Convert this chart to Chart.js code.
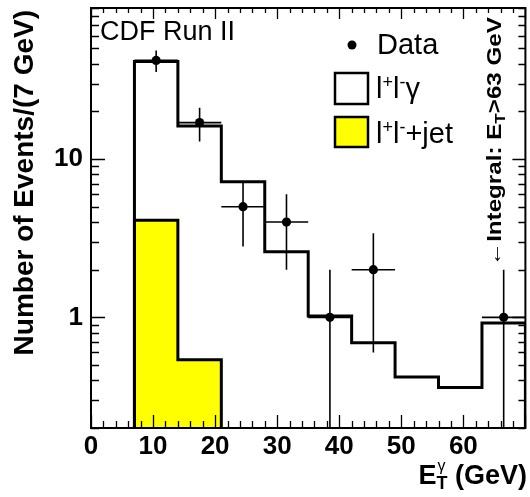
<!DOCTYPE html>
<html><head><meta charset="utf-8">
<script src="https://cdn.jsdelivr.net/npm/chart.js@4/dist/chart.umd.min.js"></script>
<style>html,body{margin:0;padding:0;background:#fff;overflow:hidden;}</style>
</head><body>
<canvas id="c" width="530" height="497" style="display:block;width:530px;height:497px"></canvas>
<script>
// ---- data ----
const binEdges = [7, 14, 21, 28, 35, 42, 49, 56, 63, 70];
const llGamma  = [41.3, 16.2, 7.2, 2.6, 1.02, 0.69, 0.42, 0.36, 0.92];
const llJet    = [4.1, 0.54, 0, 0, 0, 0, 0, 0, 0];
const dataX    = [10.5, 17.5, 24.5, 31.5, 38.5, 45.5, 66.5];
const dataY    = [42, 17, 5, 4, 1, 2, 1];
const dataErrY = [6.5, 4.1, 2.2, 2.0, 1.0, 1.4, 1.0];
const dataErrX = [3.5, 3.5, 3.5, 3.5, 3.5, 3.5, 3.5];
const xTickLabels = [0, 10, 20, 30, 40, 50, 60];
const yTickLabels = [1, 10];
const FONT = "'Liberation Sans', Arial, Helvetica, sans-serif";

const BASE = 0.05;
function histSteps(edges, vals) {
  const pts = [{x: edges[0], y: BASE}];
  for (let i = 0; i < vals.length; i++) pts.push({x: edges[i], y: vals[i] > 0 ? vals[i] : BASE});
  const last = vals[vals.length - 1];
  pts.push({x: edges[edges.length - 1], y: last > 0 ? last : BASE});
  pts.push({x: edges[edges.length - 1], y: BASE});
  return pts;
}

const decor = {
  id: 'decor',
  beforeDatasetDraw(chart, args) {
    if (args.index !== 0) return;
    const {ctx, chartArea: a} = chart;
    const xs = chart.scales.x, ys = chart.scales.y;
    ctx.save();
    ctx.beginPath(); ctx.rect(a.left, a.top, a.right - a.left, a.bottom - a.top); ctx.clip();
    ctx.strokeStyle = '#000'; ctx.lineWidth = 1.6;
    for (let i = 0; i < dataX.length; i++) {
      const px = xs.getPixelForValue(dataX[i]);
      const py = ys.getPixelForValue(dataY[i]);
      const lo = dataY[i] - dataErrY[i];
      const pLo = lo > 0 ? ys.getPixelForValue(lo) : a.bottom + 5;
      const pHi = ys.getPixelForValue(dataY[i] + dataErrY[i]);
      ctx.beginPath();
      ctx.moveTo(px, pLo); ctx.lineTo(px, pHi);
      ctx.moveTo(xs.getPixelForValue(dataX[i] - dataErrX[i]), py);
      ctx.lineTo(xs.getPixelForValue(dataX[i] + dataErrX[i]), py);
      ctx.stroke();
    }
    ctx.restore();
  },
  afterDraw(chart) {
    const {ctx, chartArea: a} = chart;
    const xs = chart.scales.x, ys = chart.scales.y;
    ctx.save();
    // tick marks (inside)
    ctx.strokeStyle = '#000'; ctx.lineWidth = 1.3;
    ctx.beginPath();
    for (let v = 0; v <= 70; v += 2) {
      const px = Math.round(xs.getPixelForValue(v)) + 0.5;
      const major = v % 10 === 0;
      const lb = major ? 13 : 7, lt = major ? 11 : 5;
      ctx.moveTo(px, a.bottom); ctx.lineTo(px, a.bottom - lb);
      ctx.moveTo(px, a.top); ctx.lineTo(px, a.top + lt);
    }
    const decs = [0.1, 1, 10];
    for (const d of decs) {
      for (let m = 1; m <= 9; m++) {
        const v = d * m;
        if (v < 0.2 - 1e-9 || v > 90 + 1e-9) continue;
        const py = Math.round(ys.getPixelForValue(v)) + 0.5;
        const major = (m === 1);
        const ll = major ? 14 : 8, lr = major ? 13 : 7;
        ctx.moveTo(a.left, py); ctx.lineTo(a.left + ll, py);
        ctx.moveTo(a.right, py); ctx.lineTo(a.right - lr, py);
      }
    }
    ctx.stroke();
    // frame
    ctx.lineWidth = 2;
    ctx.strokeRect(a.left, a.top, a.right - a.left, a.bottom - a.top);

    ctx.fillStyle = '#000';
    // CDF Run II
    ctx.font = `27px ${FONT}`;
    ctx.textAlign = 'left'; ctx.textBaseline = 'alphabetic';
    ctx.fillText('CDF Run II', 100, 40);

    // legend
    ctx.beginPath(); ctx.arc(352, 45, 4.5, 0, Math.PI * 2); ctx.fill();
    ctx.font = `29px ${FONT}`;
    ctx.fillText('Data', 377, 54);
    ctx.lineWidth = 2.5;
    ctx.fillStyle = '#fff'; ctx.fillRect(335, 73, 33, 31); ctx.strokeRect(335, 73, 33, 31);
    ctx.fillStyle = '#ffff00'; ctx.fillRect(335, 117, 33, 30); ctx.strokeRect(335, 117, 33, 30);
    ctx.fillStyle = '#000';
    function supText(parts, x, y) {
      for (const p of parts) {
        ctx.font = p.sup ? `18px ${FONT}` : `29px ${FONT}`;
        ctx.fillText(p.t, x, y - (p.sup ? 10 : 0));
        x += ctx.measureText(p.t).width;
      }
    }
    supText([{t:'l'},{t:'+',sup:1},{t:'l'},{t:'-',sup:1},{t:'γ'}], 376, 98);
    supText([{t:'l'},{t:'+',sup:1},{t:'l'},{t:'-',sup:1},{t:'+jet'}], 376, 143);

    // y title
    ctx.save();
    ctx.translate(33, 10); ctx.rotate(-Math.PI / 2);
    ctx.font = `bold 28px ${FONT}`;
    ctx.textAlign = 'right';
    ctx.fillText('Number of Events/(7 GeV)', 0, 0);
    ctx.restore();

    // integral note
    ctx.save();
    ctx.translate(501, 266); ctx.rotate(-Math.PI / 2); ctx.scale(1.15, 1);
    ctx.textAlign = 'left';
    let x = 0;
    ctx.font = `bold 21px ${FONT}`;
    ctx.fillText('←Integral: E', x, 0); x += ctx.measureText('←Integral: E').width;
    ctx.font = `bold 15px ${FONT}`;
    ctx.fillText('T', x, 4); x += ctx.measureText('T').width;
    ctx.font = `bold 21px ${FONT}`;
    ctx.fillText('>63 GeV', x, 0);
    ctx.restore();

    // x title
    ctx.font = `bold 27px ${FONT}`;
    const wE = ctx.measureText('E').width;
    const wRest = ctx.measureText(' (GeV)').width;
    ctx.font = `bold 18px ${FONT}`;
    const wT = ctx.measureText('T').width;
    const total = wE + wT + wRest;
    let sx = 527 - total;
    ctx.textAlign = 'left';
    ctx.font = `bold 27px ${FONT}`;
    ctx.fillText('E', sx, 484);
    ctx.font = `bold 18px ${FONT}`;
    ctx.fillText('T', sx + wE, 489);
    ctx.font = `16px ${FONT}`;
    ctx.fillText('γ', sx + wE + 1, 471);
    ctx.font = `bold 27px ${FONT}`;
    ctx.fillText(' (GeV)', sx + wE + wT, 484);
    ctx.restore();
  }
};

new Chart(document.getElementById('c'), {
  type: 'line',
  data: {
    datasets: [
      {
        label: 'Data', type: 'scatter', order: 0,
        data: dataX.map((x, i) => ({x, y: dataY[i]})),
        showLine: false, pointRadius: 4.6, pointBackgroundColor: '#000',
        pointBorderWidth: 0, pointHoverRadius: 4.6
      },
      {
        label: 'l+l−γ', order: 1,
        data: histSteps(binEdges, llGamma),
        stepped: true, borderColor: '#000', borderWidth: 3, fill: false,
        pointRadius: 0, clip: 0
      },
      {
        label: 'l+l−+jet', order: 2,
        data: histSteps(binEdges, llJet),
        stepped: true, borderColor: '#000', borderWidth: 3,
        backgroundColor: '#ffff00', fill: 'start',
        pointRadius: 0, clip: 0
      }
    ]
  },
  options: {
    responsive: false, animation: false, devicePixelRatio: 1,
    layout: {padding: {top: 8, right: 3, left: 0, bottom: 0}},
    plugins: {legend: {display: false}, tooltip: {enabled: false}},
    scales: {
      x: {
        type: 'linear', min: 0, max: 70,
        afterBuildTicks: s => { s.ticks = xTickLabels.map(v => ({value: v})); },
        afterFit: s => { s.height = 69; s.paddingLeft = 0; s.paddingRight = 0; },
        grid: {display: false, drawTicks: false}, border: {display: false},
        ticks: {autoSkip: false, maxRotation: 0, padding: 3, color: '#000',
                font: {family: FONT, size: 26, weight: 'bold'}, callback: v => String(v)}
      },
      y: {
        type: 'logarithmic', min: 0.2, max: 90,
        afterBuildTicks: s => { s.ticks = yTickLabels.map(v => ({value: v})); },
        afterFit: s => { s.width = 91; s.paddingTop = 0; s.paddingBottom = 0; },
        grid: {display: false, drawTicks: false}, border: {display: false},
        ticks: {autoSkip: false, padding: 8, color: '#000',
                font: {family: FONT, size: 26, weight: 'bold'}, callback: v => String(v)}
      }
    }
  },
  plugins: [decor]
});
</script>
</body></html>
